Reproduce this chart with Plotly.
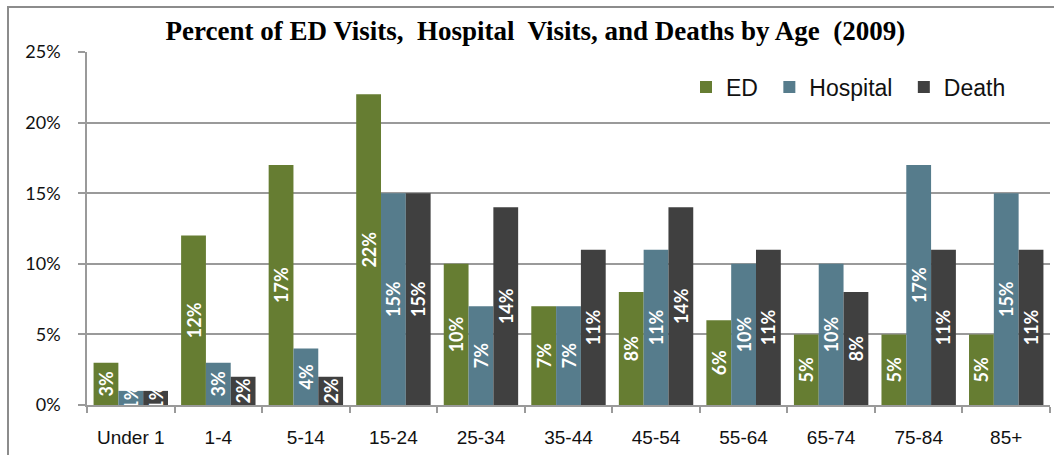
import plotly.graph_objects as go

categories = ["Under 1", "1-4", "5-14", "15-24", "25-34", "35-44", "45-54", "55-64", "65-74", "75-84", "85+"]
ed_values = [3, 12, 17, 22, 10, 7, 8, 6, 5, 5, 5]
hospital_values = [1, 3, 4, 15, 7, 7, 11, 10, 10, 17, 15]
death_values = [1, 2, 2, 15, 14, 11, 14, 11, 8, 11, 11]
y_ticks = [0, 5, 10, 15, 20, 25]
y_tick_text = ["0%", "5%", "10%", "15%", "20%", "25%"]

series = [
    ("ED\u00a0", ed_values, "#667D32"),
    ("Hospital\u00a0", hospital_values, "#567C8C"),
    ("Death", death_values, "#404040"),
]

fig = go.Figure()
for name, vals, color in series:
    fig.add_trace(go.Bar(
        x=categories, y=vals, name=name,
        marker=dict(color=color, line=dict(width=0)),
        text=[f"{v}%" for v in vals],
        textposition="inside",
        insidetextanchor="middle",
        textangle=-90,
        constraintext="none",
        textfont=dict(family="Lato", size=18, color="white", weight="bold"),
        cliponaxis=True,
        hoverinfo="x+y+name",
    ))

W, H = 1054, 455
ml, mr, mt, mb = 87, 4, 52, 50
pw, ph = W - ml - mr, H - mt - mb

def px_x(x):
    return (x - ml) / pw

def px_y(y):
    return (H - mb - y) / ph

fig.update_layout(
    width=W, height=H,
    margin=dict(l=ml, r=mr, t=mt, b=mb, autoexpand=False),
    paper_bgcolor="white", plot_bgcolor="white",
    barmode="group", bargap=0.15, bargroupgap=0,
    title=dict(
        text="Percent of ED Visits,  Hospital  Visits, and Deaths by Age  (2009)",
        font=dict(family="Liberation Serif", size=27, color="black", weight="bold"),
        x=0.508, xanchor="center", y=1 - 31 / H, yanchor="middle",
    ),
    legend=dict(
        orientation="h", x=px_x(686), y=px_y(87), xanchor="left", yanchor="middle",
        font=dict(family="Liberation Sans", size=23, color="#111"),
        bgcolor="rgba(0,0,0,0)",
    ),
    xaxis=dict(
        type="category", tickson="boundaries", ticks="outside", ticklen=6,
        tickcolor="#9a9a9a", tickwidth=1.5,
        showline=True, linecolor="#9a9a9a", linewidth=1.5,
        tickfont=dict(family="Liberation Sans", size=19, color="#111"),
        ticklabelstandoff=14, showgrid=False,
    ),
    yaxis=dict(
        range=[0, 25], tickvals=y_ticks, ticktext=y_tick_text,
        ticks="outside", ticklen=7, tickcolor="#9a9a9a", tickwidth=1.5,
        showline=True, linecolor="#9a9a9a", linewidth=1.5,
        showgrid=True, gridcolor="#9a9a9a", gridwidth=1.5,
        tickfont=dict(family="Lato", size=18, color="#111"),
        ticklabelstandoff=14, zeroline=False,
    ),
    shapes=[dict(
        type="rect", xref="paper", yref="paper",
        x0=px_x(8), x1=px_x(1060), y0=px_y(465), y1=px_y(7),
        line=dict(color="#8c8c8c", width=2), fillcolor="rgba(0,0,0,0)", layer="below",
    )],
)

fig.write_html(
    "out.html",
    config={"displayModeBar": False},
    post_script="document.body.style.margin='0';document.body.style.overflow='hidden';",
)
